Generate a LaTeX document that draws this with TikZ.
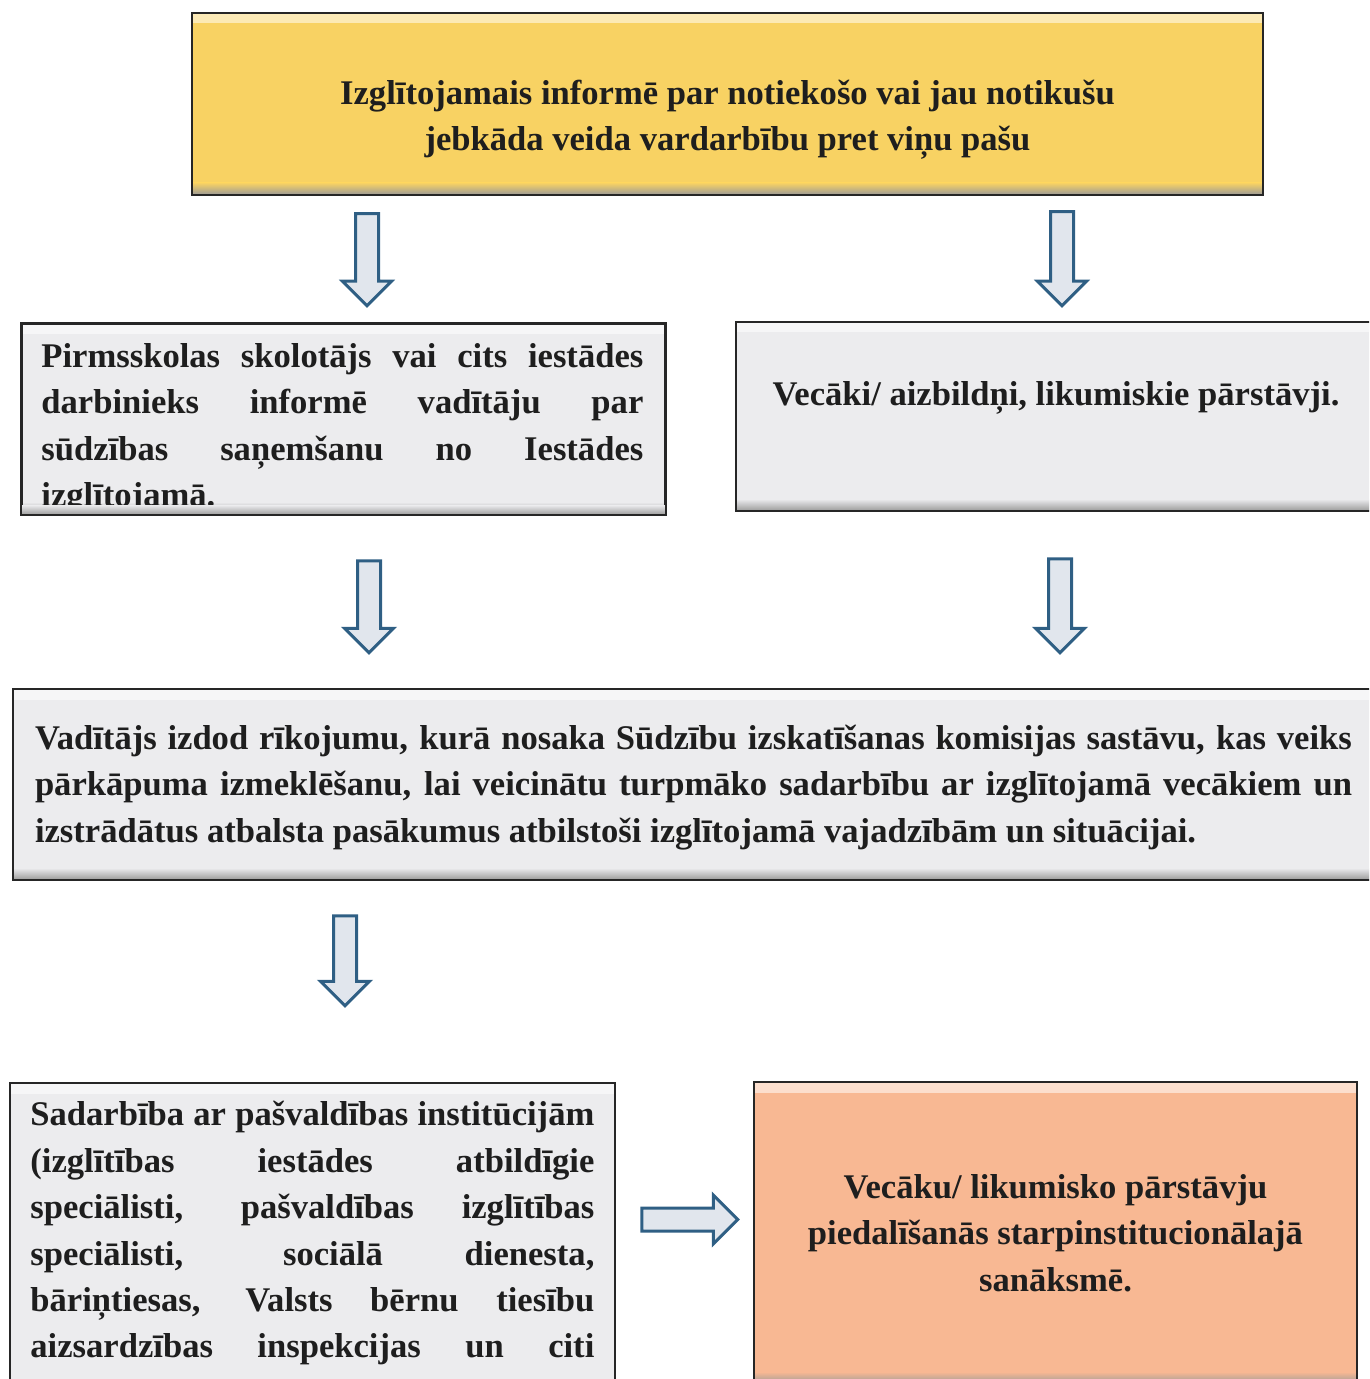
\documentclass[tikz,border=0pt]{standalone}
\usepackage{fontspec}
\setmainfont{Liberation Serif}
\usetikzlibrary{%
  shapes.arrows,% single arrow
  positioning%
}
\definecolor{boxyellow}{HTML}{F8D263}
\definecolor{boxgray}{HTML}{ECECEE}
\definecolor{boxorange}{HTML}{F8B893}
\definecolor{arrowline}{HTML}{2F5F84}
\definecolor{arrowfill}{HTML}{E1E6ED}
\definecolor{inktext}{HTML}{1E1E1E}

\begin{document}
\begin{tikzpicture}[
    x=0.5pt,y=-0.5pt,
    bevel/.style={path picture={
        \shade[top color=#1!45!white,bottom color=#1]
          (path picture bounding box.north west)
          rectangle ([yshift=-5pt]path picture bounding box.north east);
        \shade[top color=#1,bottom color=black!40]
          ([yshift=6pt]path picture bounding box.south west)
          rectangle (path picture bounding box.south east);}},
    stepbox/.style={rectangle,draw=black!85,line width=1pt,fill=#1,bevel=#1,
        inner sep=0pt},
    boxtext/.style={text=inktext,inner sep=0pt,
        font=\fontsize{17.3}{23.2}\selectfont\bfseries},
    blockarrow/.style={single arrow,draw=arrowline,line width=1.5pt,
        fill=arrowfill,minimum height=#1,inner sep=0pt,text width=0pt,
        text height=10pt,text depth=0pt,single arrow head extend=6.5pt,
        single arrow tip angle=90}
  ]

    \useasboundingbox (0,0) rectangle (1369,1379);
    \clip (0,0) rectangle (1369,1379);

    % boxes
    \node[stepbox=boxyellow,minimum width=535.5pt,minimum height=91pt,
        label={[boxtext,align=center,yshift=-8pt]center:%
          Izglītojamais informē par notiekošo vai jau notikušu\\
          jebkāda veida vardarbību pret viņu pašu}]
        (notif) at (727.5,104) {};

    \begin{scope}
      \clip (0,0) rectangle (1369,514);
      \node[stepbox=boxgray,minimum width=321.5pt,minimum height=95pt,
          anchor=north west,
          label={[boxtext,text width=301pt,align=justify,anchor=north west,
            shift={(10pt,-10pt)}]north west:%
            Pirmsskolas skolotājs vai cits iestādes\linebreak
            darbinieks informē vadītāju par\linebreak
            sūdzības saņemšanu no Iestādes\linebreak
            izglītojamā.}]
          (staff) at (21,323) {};
    \end{scope}
    % text runs out under the lower edge
    \shade[top color=boxgray,bottom color=black!40]
      ([yshift=5pt]staff.south west) rectangle (staff.south east);
    \draw[black!85,line width=1pt] (staff.north west) rectangle (staff.south east);

    \node[stepbox=boxgray,minimum width=320pt,minimum height=94.5pt,
        label={[boxtext,yshift=9.5pt]center:%
          Vecāki/ aizbildņi, likumiskie pārstāvji.}]
        (parents) at (1056,416.5) {};

    \node[stepbox=boxgray,minimum width=680.5pt,minimum height=95.5pt,
        label={[boxtext,text width=658.5pt,align=justify,yshift=-1.5pt]center:%
          Vadītājs izdod rīkojumu, kurā nosaka Sūdzību izskatīšanas komisijas sastāvu, kas veiks\linebreak
          pārkāpuma izmeklēšanu, lai veicinātu turpmāko sadarbību ar izglītojamā vecākiem un\linebreak
          izstrādātus atbalsta pasākumus atbilstoši izglītojamā vajadzībām un situācijai.}]
        (order) at (693.5,784.5) {};

    \node[stepbox=boxgray,minimum width=302.5pt,minimum height=160pt,
        anchor=north west,
        label={[boxtext,text width=282pt,align=justify,anchor=north west,
          shift={(10.5pt,-9.5pt)}]north west:%
          Sadarbība ar pašvaldības institūcijām\linebreak
          (izglītības iestādes atbildīgie\linebreak
          speciālisti, pašvaldības izglītības\linebreak
          speciālisti, sociālā dienesta,\linebreak
          bāriņtiesas, Valsts bērnu tiesību\linebreak
          aizsardzības inspekcijas un citi\linebreak}]
        (coop) at (9,1082) {};

    \node[stepbox=boxorange,minimum width=301.5pt,minimum height=151pt,
        label={[boxtext,align=center]center:%
          Vecāku/ likumisko pārstāvju\\
          piedalīšanās starpinstitucionālajā\\
          sanāksmē.}]
        (meeting) at (1055.5,1233) {};

    % arrows
    \node[blockarrow=46pt,rotate=-90] (a1) at (367,254) {};
    \node[blockarrow=47pt,rotate=-90] (a2) at (1062,253) {};
    \node[blockarrow=46pt,rotate=-90] (a3) at (369,601) {};
    \node[blockarrow=47pt,rotate=-90] (a4) at (1060,600) {};
    \node[blockarrow=45pt,rotate=-90] (a5) at (345,955) {};
    \node[blockarrow=48pt] (a6) at (684,1219.5) {};
\end{tikzpicture}
\end{document}
